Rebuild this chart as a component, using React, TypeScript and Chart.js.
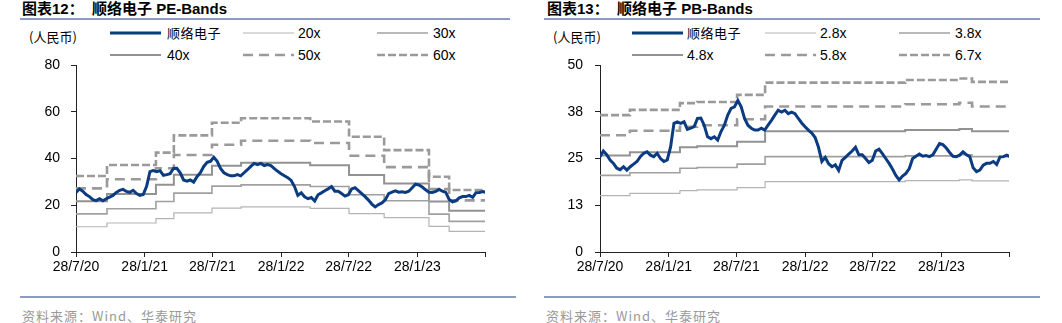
import React, { useEffect, useRef } from "react";
import { Chart, registerables } from "chart.js";

Chart.register(...registerables);

// ---------- data ----------
const X_END_DAY = 1095; // 28/7/20 -> 28/7/23
const X_TICK_DAYS = [0, 184, 365, 549, 730, 914, 1095];
const X_TICK_LABELS = ["28/7/20", "28/1/21", "28/7/21", "28/1/22", "28/7/22", "28/1/23", ""];

// share price (RMB), one value every 9 days from 28/7/20
const PRICE_STEP_DAYS = 9;
const PRICE = [
  25.5, 27.0, 26.0, 24.6, 23.7, 22.4, 22.0, 22.8, 21.9, 22.8,
  23.5, 24.2, 25.5, 26.4, 26.8, 25.9, 25.5, 26.4, 25.0, 24.2,
  24.6, 28.1, 34.4, 34.8, 34.4, 34.8, 32.8, 33.1, 33.5, 35.7,
  35.8, 33.9, 30.8, 30.3, 30.8, 29.9, 32.2, 33.9, 36.6, 38.4,
  38.8, 40.5, 38.8, 35.7, 33.9, 33.1, 32.6, 32.6, 33.1, 32.6,
  33.9, 35.2, 36.6, 37.9, 37.4, 37.9, 37.0, 37.4, 37.0, 35.7,
  34.5, 33.5, 32.6, 31.8, 30.6, 28.0, 24.2, 25.3, 23.6, 22.8,
  23.3, 21.8, 24.5, 25.3, 26.2, 27.0, 28.0, 26.0, 26.0, 25.0,
  23.9, 24.5, 27.0, 27.5, 26.3, 25.0, 23.7, 22.2, 20.5, 19.3,
  20.3, 21.0, 22.3, 25.0, 25.6, 26.2, 25.6, 25.8, 25.5, 26.0,
  27.5, 29.0, 28.7, 27.8, 26.6, 25.6, 25.5, 25.9, 26.8, 26.0,
  25.5, 22.5, 21.5, 21.9, 23.2, 23.7, 23.7, 24.2, 23.4, 25.4,
  25.5, 25.9, 25.5,
];

// PE bands: day the level starts, and level for each multiple
const PE_BAND_DAYS = [0, 83, 214, 262, 364, 442, 627, 731, 825, 945, 999];
const PE_20X = [10.8, 12.4, 14.3, 16.7, 18.8, 19.3, 18.7, 16.4, 14.7, 11.0, 8.8];
const PE_30X = [16.3, 18.5, 21.6, 25.2, 28.2, 28.7, 28.0, 24.5, 21.9, 16.2, 13.1];
const PE_40X = [21.7, 24.8, 28.8, 33.1, 36.9, 38.2, 37.1, 32.9, 29.3, 21.6, 17.6];
const PE_50X = [27.2, 31.1, 35.8, 41.5, 45.9, 47.6, 46.6, 41.2, 36.3, 26.9, 22.1];
const PE_60X = [32.5, 37.2, 42.5, 49.9, 55.3, 57.2, 55.8, 49.3, 43.6, 32.2, 26.5];
const PE_Y_TICKS = [0, 20, 40, 60, 80];
const PE_Y_LABELS = ["0", "20", "40", "60", "80"];

// PB bands
const PB_BAND_DAYS = [0, 80, 214, 260, 367, 442, 817, 962, 996];
const PB_28X = [15.1, 15.7, 16.4, 16.6, 17.2, 18.8, 19.1, 19.3, 19.0];
const PB_38X = [20.5, 21.2, 22.4, 22.6, 23.5, 25.5, 25.7, 26.0, 25.5];
const PB_48X = [25.8, 26.7, 28.0, 28.3, 29.5, 32.3, 32.6, 32.9, 32.3];
const PB_58X = [31.2, 32.4, 33.5, 33.9, 35.5, 38.9, 39.5, 39.9, 38.9];
const PB_67X = [36.6, 38.0, 39.8, 40.1, 42.0, 45.3, 46.0, 46.4, 45.5];
const PB_Y_TICKS = [0, 12.5, 25, 37.5, 50];
const PB_Y_LABELS = ["0", "13", "25", "38", "50"];

const PE_NAMES = ["顺络电子", "20x", "30x", "40x", "50x", "60x"];
const PB_NAMES = ["顺络电子", "2.8x", "3.8x", "4.8x", "5.8x", "6.7x"];

// ---------- styles ----------
const NAVY = "#0B3B80";
const STYLES = [
  { color: NAVY, width: 3, dash: [] as number[] },
  { color: "#B4B4B4", width: 1.2, dash: [] as number[] },
  { color: "#A0A0A0", width: 1.6, dash: [] as number[] },
  { color: "#929292", width: 2, dash: [] as number[] },
  { color: "#9A9A9A", width: 2.6, dash: [10, 6] },
  { color: "#9A9A9A", width: 2.6, dash: [8, 3] },
];
const FONT = "'Liberation Sans', Arial, 'Noto Sans CJK SC', sans-serif";
const CJK = "'Noto Sans CJK SC', 'Liberation Sans', sans-serif";
const RULE = "#8A9CC2";

function bandPoints(days: number[], vals: number[]) {
  const pts = days.map((d, i) => ({ x: d, y: vals[i] }));
  pts.push({ x: X_END_DAY, y: vals[vals.length - 1] });
  return pts;
}

function BandChart(props: {
  left: number;
  bandDays: number[];
  bands: number[][];
  yMax: number;
  yTicks: number[];
  yLabels: string[];
  yPad: number;
}) {
  const ref = useRef<HTMLCanvasElement>(null);
  useEffect(() => {
    const ctx = ref.current!;
    const priceDs = {
      data: PRICE.map((v, i) => ({ x: i * PRICE_STEP_DAYS, y: v })),
      borderColor: STYLES[0].color,
      borderWidth: STYLES[0].width,
      pointRadius: 0,
      tension: 0,
      fill: false,
    };
    const bandDs = props.bands.map((vals, k) => ({
      data: bandPoints(props.bandDays, vals),
      borderColor: STYLES[k + 1].color,
      borderWidth: STYLES[k + 1].width,
      borderDash: STYLES[k + 1].dash,
      stepped: true,
      pointRadius: 0,
      fill: false,
    }));
    const axisGrid = {
      display: true,
      drawOnChartArea: false,
      drawTicks: true,
      tickLength: 5,
      color: "#222",
    };
    const chart = new Chart(ctx, {
      type: "line",
      data: { datasets: [priceDs, ...bandDs] as any },
      options: {
        animation: false,
        responsive: false,
        devicePixelRatio: 1,
        layout: { padding: { left: 0, right: 15, top: 7, bottom: 0 } },
        plugins: { legend: { display: false }, tooltip: { enabled: false } },
        scales: {
          x: {
            type: "linear",
            min: 0,
            max: X_END_DAY,
            afterBuildTicks: (s: any) => {
              s.ticks = X_TICK_DAYS.map((v) => ({ value: v }));
            },
            afterFit: (s: any) => {
              s.height = 28;
              s.paddingLeft = 0;
              s.paddingRight = 0;
            },
            ticks: {
              autoSkip: false,
              maxRotation: 0,
              padding: 2,
              color: "#000",
              font: { size: 14, family: FONT },
              callback: (_v: any, i: number) => X_TICK_LABELS[i],
            },
            grid: axisGrid,
            border: { display: true, color: "#222", width: 1 },
          },
          y: {
            min: 0,
            max: props.yMax,
            afterBuildTicks: (s: any) => {
              s.ticks = props.yTicks.map((v) => ({ value: v }));
            },
            afterFit: (s: any) => {
              s.width = 56;
              s.paddingTop = 0;
              s.paddingBottom = 0;
            },
            ticks: {
              padding: props.yPad,
              color: "#000",
              font: { size: 14, family: FONT },
              callback: (_v: any, i: number) => props.yLabels[i],
            },
            grid: axisGrid,
            border: { display: true, color: "#222", width: 1 },
          },
        },
      } as any,
    });
    return () => chart.destroy();
  }, []);
  return (
    <canvas
      ref={ref}
      width={480}
      height={222}
      style={{ position: "absolute", left: props.left, top: 58, width: 480, height: 222 }}
    />
  );
}

function LegendItem(props: { x: number; y: number; lx: number; k: number; label: string }) {
  const st = STYLES[props.k];
  const cjk = /[\u4e00-\u9fff]/.test(props.label);
  return (
    <>
      <svg
        width={52}
        height={6}
        style={{ position: "absolute", left: props.x, top: props.y - 3 }}
      >
        <line
          x1={0}
          y1={3}
          x2={51}
          y2={3}
          stroke={st.color}
          strokeWidth={st.width}
          strokeDasharray={st.dash.length ? st.dash.join(" ") : undefined}
        />
      </svg>
      <span
        style={{
          position: "absolute",
          left: props.lx,
          top: props.y - 9,
          height: 18,
          lineHeight: "18px",
          fontSize: cjk ? 13 : 14,
          letterSpacing: cjk ? 0.5 : 0,
          fontFamily: cjk ? CJK : FONT,
          color: "#000",
          whiteSpace: "nowrap",
        }}
      >
        {props.label}
      </span>
    </>
  );
}

function Panel(props: {
  title: string;
  titleX: number;
  ruleL: number;
  ruleR: number;
  unitX: number;
  lineXs: number[];
  labelXs: number[];
  names: string[];
  footX: number;
  footRuleR: number;
}) {
  const rows = [33, 55];
  return (
    <>
      <div
        style={{
          position: "absolute",
          left: props.titleX,
          top: 0,
          height: 17,
          lineHeight: "17px",
          fontSize: 15,
          fontWeight: "bold",
          fontFamily: FONT,
          color: "#000",
          whiteSpace: "pre",
        }}
      >
        {props.title}
      </div>
      <div
        style={{
          position: "absolute",
          left: props.ruleL,
          top: 18,
          width: props.ruleR - props.ruleL,
          height: 1.5,
          background: RULE,
        }}
      />
      <div
        style={{
          position: "absolute",
          left: props.unitX,
          top: 28,
          height: 18,
          lineHeight: "18px",
          fontSize: 13,
          fontFamily: CJK,
          color: "#000",
          whiteSpace: "nowrap",
        }}
      >
        (人民币)
      </div>
      {props.names.map((n, k) => (
        <LegendItem
          key={k}
          k={k}
          label={n}
          x={props.lineXs[k % 3]}
          lx={props.labelXs[k % 3]}
          y={rows[Math.floor(k / 3)]}
        />
      ))}
      <div
        style={{
          position: "absolute",
          left: props.ruleL,
          top: 296,
          width: props.footRuleR - props.ruleL,
          height: 1.5,
          background: RULE,
        }}
      />
      <div
        style={{
          position: "absolute",
          left: props.footX,
          top: 307,
          height: 18,
          lineHeight: "18px",
          fontSize: 13,
          letterSpacing: 1,
          fontFamily: CJK,
          color: "#999",
          whiteSpace: "nowrap",
        }}
      >
        资料来源：Wind、华泰研究
      </div>
    </>
  );
}

export default function App() {
  return (
    <div
      style={{
        position: "fixed",
        left: 0,
        top: 0,
        width: 1062,
        height: 323,
        background: "#fff",
        overflow: "hidden",
      }}
    >
      <Panel
        title="图表12：  顺络电子 PE-Bands"
        titleX={22}
        ruleL={20}
        ruleR={510}
        unitX={29}
        lineXs={[110, 243, 377]}
        labelXs={[167, 298, 433]}
        names={PE_NAMES}
        footX={22}
        footRuleR={516}
      />
      <Panel
        title="图表13：  顺络电子 PB-Bands"
        titleX={547}
        ruleL={544}
        ruleR={1040}
        unitX={553}
        lineXs={[632, 765, 899]}
        labelXs={[687, 820, 955]}
        names={PB_NAMES}
        footX={546}
        footRuleR={1040}
      />
      <BandChart
        left={20}
        bandDays={PE_BAND_DAYS}
        bands={[PE_20X, PE_30X, PE_40X, PE_50X, PE_60X]}
        yMax={80}
        yTicks={PE_Y_TICKS}
        yLabels={PE_Y_LABELS}
        yPad={11}
      />
      <BandChart
        left={544}
        bandDays={PB_BAND_DAYS}
        bands={[PB_28X, PB_38X, PB_48X, PB_58X, PB_67X]}
        yMax={50}
        yTicks={PB_Y_TICKS}
        yLabels={PB_Y_LABELS}
        yPad={12}
      />
    </div>
  );
}
